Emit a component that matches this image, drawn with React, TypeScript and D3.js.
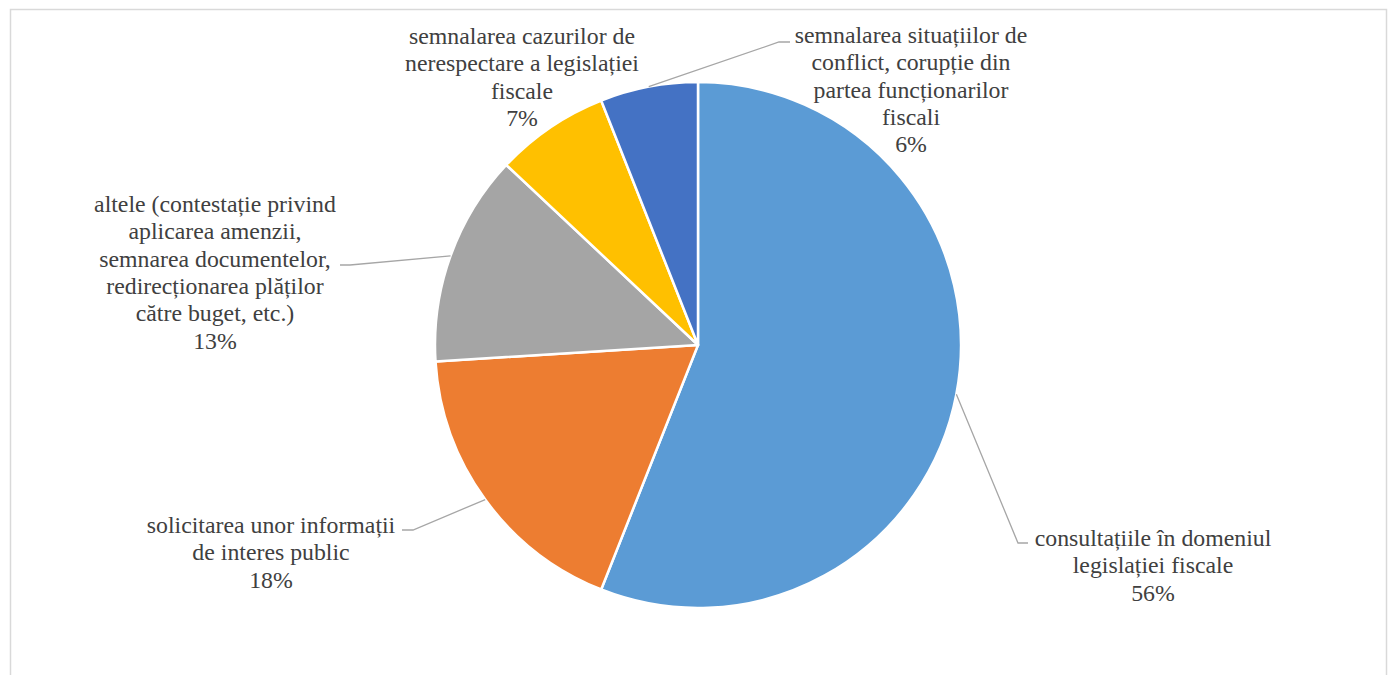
import * as d3 from "d3";

const CATEGORIES = [
  "consultațiile în domeniul legislației fiscale",
  "solicitarea unor informații de interes public",
  "altele (contestație privind aplicarea amenzii, semnarea documentelor, redirecționarea plăților către buget, etc.)",
  "semnalarea cazurilor de nerespectare a legislației fiscale",
  "semnalarea situațiilor de conflict, corupție din partea funcționarilor fiscali",
];
const VALUES = [56, 18, 13, 7, 6];
const COLORS = ["#5B9BD5", "#ED7D31", "#A5A5A5", "#FFC000", "#4472C4"];

// label lines as they wrap in the picture
const LABEL_LINES = [
  ["consultațiile în domeniul", "legislației fiscale"],
  ["solicitarea unor informații", "de interes public"],
  ["altele (contestație privind", "aplicarea amenzii,", "semnarea documentelor,", "redirecționarea plăților", "către buget, etc.)"],
  ["semnalarea cazurilor de", "nerespectare a legislației", "fiscale"],
  ["semnalarea situațiilor de", "conflict, corupție din", "partea funcționarilor", "fiscali"],
];

// label layout: text centre x, first line centre y, elbow of leader line (null = none)
const LABEL_POS: { x: number; y: number; elbow: number[] | null; end: number[] | null }[] = [
  { x: 1153, y: 538, elbow: [1018, 543], end: [1028, 543] },
  { x: 271, y: 525, elbow: [413, 530], end: [402, 530] },
  { x: 215, y: 204, elbow: [350, 265], end: [340, 265] },
  { x: 522, y: 36, elbow: null, end: null },
  { x: 911, y: 35, elbow: [779, 42], end: [790, 42] },
];

type Datum = { name: string; value: number; i: number };

const App = () => {
  const width = 1392;
  const height = 675;
  const cx = 698;
  const cy = 345;
  const radius = 263;
  const lineH = 27.3;

  const data: Datum[] = VALUES.map((v, i) => ({ name: CATEGORIES[i], value: v, i }));
  const arcs = d3
    .pie<Datum>()
    .value((d) => d.value)
    .sort(null)(data);
  const arc = d3.arc<d3.PieArcDatum<Datum>>().innerRadius(0).outerRadius(radius);

  return (
    <div style={{ position: "absolute", left: 0, top: 0 }}>
      <svg width={width} height={height} style={{ display: "block" }}>
        {/* chart frame */}
        <rect x={10.5} y={9.5} width={1376} height={700} fill="#fff" stroke="#D9D9D9" strokeWidth={1.5} />
        <g transform={`translate(${cx},${cy})`}>
          {arcs.map((a) => (
            <path
              key={a.data.i}
              d={arc(a) || ""}
              fill={COLORS[a.data.i]}
              stroke="#fff"
              strokeWidth={2.5}
              strokeLinejoin="round"
            />
          ))}
        </g>
        {/* leader lines */}
        {arcs.map((a) => {
          const pos = LABEL_POS[a.data.i];
          if (!pos.elbow || !pos.end) return null;
          const mid = (a.startAngle + a.endAngle) / 2;
          const sx = cx + radius * Math.sin(mid);
          const sy = cy - radius * Math.cos(mid);
          return (
            <polyline
              key={a.data.i}
              points={`${sx},${sy} ${pos.elbow[0]},${pos.elbow[1]} ${pos.end[0]},${pos.end[1]}`}
              fill="none"
              stroke="#A6A6A6"
              strokeWidth={1.3}
            />
          );
        })}
        {/* labels */}
        {arcs.map((a) => {
          const pos = LABEL_POS[a.data.i];
          const lines = [...LABEL_LINES[a.data.i], `${a.data.value}%`];
          return (
            <text
              key={a.data.i}
              textAnchor="middle"
              fill="#404040"
              style={{ fontFamily: '"Liberation Serif"', fontSize: "23.8px" }}
            >
              {lines.map((ln, k) => (
                <tspan key={k} x={pos.x} y={pos.y + k * lineH + 8}>
                  {ln}
                </tspan>
              ))}
            </text>
          );
        })}
      </svg>
    </div>
  );
};

export default App;
